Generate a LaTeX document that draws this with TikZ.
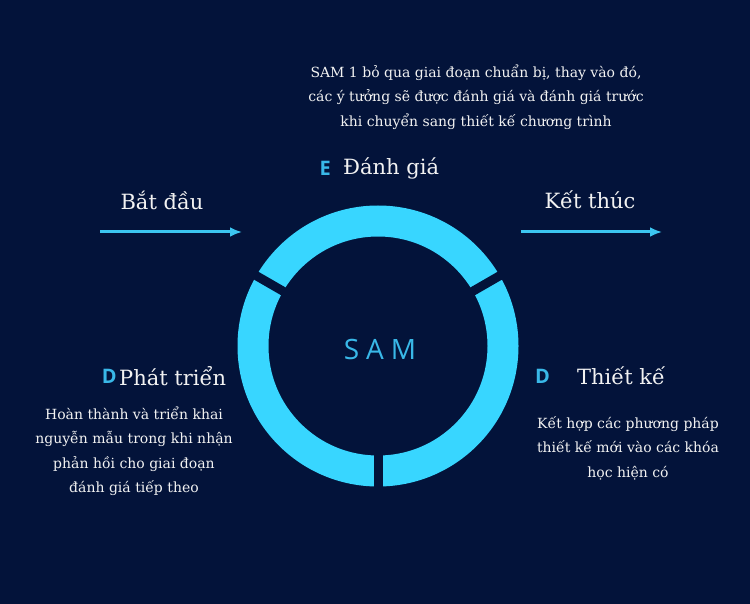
\documentclass[tikz,border=0pt]{standalone}
\usepackage{fontspec}
\usetikzlibrary{positioning,arrows.meta}
\setmainfont{DejaVu Serif}
\newfontfamily\letterfont{Open Sans}
\newfontfamily\samfont[LetterSpace=25]{Open Sans}
\definecolor{navy}{HTML}{03133A}
\definecolor{ringblue}{HTML}{38D6FF}
\definecolor{arrowblue}{HTML}{3CC6F0}
\definecolor{lettercyan}{HTML}{39B8E8}
\definecolor{textwhite}{HTML}{F2F2F2}
\begin{document}
\begin{tikzpicture}[x=1pt,y=-1pt]
\tikzstyle{title} = [text=textwhite, font=\fontsize{21}{25}\selectfont, inner sep=0pt]
\tikzstyle{note} = [text=textwhite, font=\fontsize{14}{24.5}\selectfont, align=center, inner sep=0pt]
\tikzstyle{letter} = [text=lettercyan, font=\letterfont\bfseries\fontsize{20}{24}\selectfont, inner sep=0pt]
\tikzstyle{samtext} = [text=lettercyan, font=\samfont\fontsize{28}{32}\selectfont, inner sep=0pt]
\tikzstyle{flow} = [-{Latex[length=12pt,width=10pt]}, draw=arrowblue, line width=3pt]
\fill[navy] (0,0) rectangle (750,604);
% ring with three gaps
\coordinate (c) at (378,346);
\draw[ringblue, line width=31pt] (c) circle (125pt);
\foreach \a in {-30,-150,90}
  \draw[navy, line width=9pt] (c) ++(\a:100) -- ++(\a:50);
\node[samtext] (sam) at (380,349) {SAM};
% start and end
\node[title] (start) at (162,200) {Bắt đầu};
\coordinate (s0) at (100,232);
\coordinate (s1) at (242,232);
\draw[flow] (s0) -- (s1);
\node[title] (end) at (590,200) {Kết thúc};
\coordinate (e0) at (521,232);
\coordinate (e1) at (662,232);
\draw[flow] (e0) -- (e1);
% evaluate
\node[title, anchor=west] (eval) at (343,168) {Đánh giá};
\node[letter, left=12pt of eval] (eletter) {E};
\node[note] (evalnote) at (476,97) {SAM 1 bỏ qua giai đoạn chuẩn bị, thay vào đó,\\các ý tưởng sẽ được đánh giá và đánh giá trước\\khi chuyển sang thiết kế chương trình};
% develop
\node[title, anchor=west] (dev) at (119,376) {Phát triển};
\node[letter, left=2pt of dev] (dletter) {D};
\node[note] (devnote) at (134,451) {Hoàn thành và triển khai\\nguyễn mẫu trong khi nhận\\phản hồi cho giai đoạn\\đánh giá tiếp theo};
% design
\node[title, anchor=west] (design) at (577,376) {Thiết kế};
\node[letter, left=27pt of design] (dletter2) {D};
\node[note] (designnote) at (628,448) {Kết hợp các phương pháp\\thiết kế mới vào các khóa\\học hiện có};
\end{tikzpicture}
\end{document}
